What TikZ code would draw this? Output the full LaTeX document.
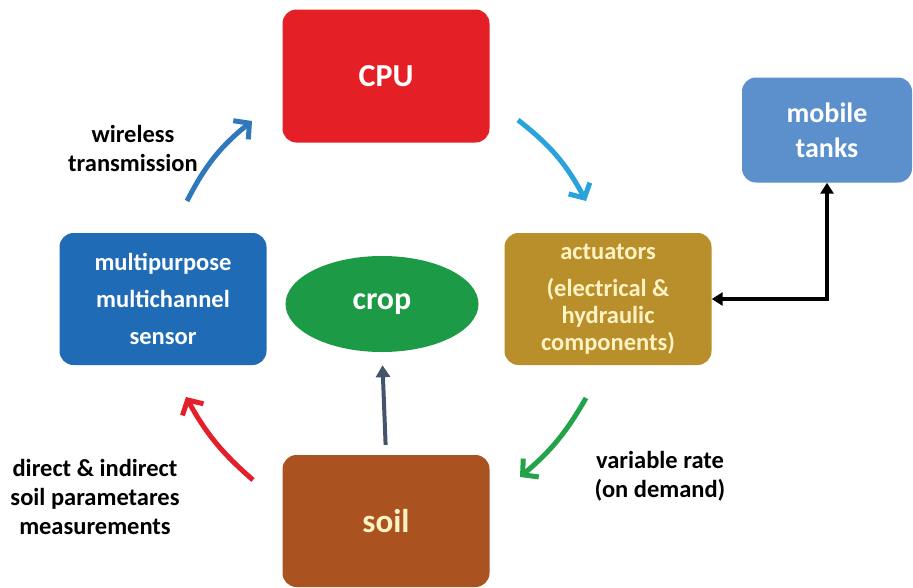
\documentclass[tikz,border=0pt]{standalone}
\usepackage{fontspec}
\setmainfont{Carlito}
\usetikzlibrary{positioning,arrows.meta,shapes.geometric}
\definecolor{cpured}{HTML}{E41F26}
\definecolor{tankblue}{HTML}{5B90CC}
\definecolor{actgold}{HTML}{B98F2B}
\definecolor{sensorblue}{HTML}{1F6BB6}
\definecolor{cropgreen}{HTML}{1C9A45}
\definecolor{soilbrown}{HTML}{AA5321}
\definecolor{wireblue}{HTML}{2F78BC}
\definecolor{skyblue}{HTML}{2AA3DC}
\definecolor{rategreen}{HTML}{22A34A}
\definecolor{measred}{HTML}{E3202A}
\definecolor{slate}{HTML}{44546A}
\definecolor{paleyellow}{HTML}{FFF3C4}

\begin{document}
\begin{tikzpicture}
		[x=1pt,y=-1pt,
		box/.style={rectangle,rounded corners=14pt,minimum width=207pt,minimum height=132pt,text=white,align=center,font=\bfseries},
		flow/.style={line width=5pt,-{Straight Barb[length=11pt,width=24pt]}},
		lbl/.style={align=center,font=\fontsize{24.5}{29}\selectfont\bfseries}]
		\useasboundingbox (0,0) rectangle (913,587);

		% draw the boxes
		\node [box,fill=cpured,minimum height=133pt,font=\fontsize{32}{36}\selectfont\bfseries] (cpu) at (386,76) {CPU};
		\node [box,fill=tankblue,minimum width=170pt,minimum height=105pt,font=\fontsize{28}{35}\selectfont\bfseries] (tanks) at (827,130) {mobile\\tanks};
		\node [box,fill=actgold,text=paleyellow,font=\fontsize{24.5}{27}\selectfont\bfseries] (act) at (608,299) {actuators\\[10pt](electrical \&\\hydraulic\\components)};
		\node [box,fill=sensorblue,font=\fontsize{24.5}{37}\selectfont\bfseries] (sensor) at (163,299) {multipurpose\\multichannel\\sensor};
		\node [ellipse,fill=cropgreen,text=white,minimum width=193pt,minimum height=96pt,font=\fontsize{32}{36}\selectfont\bfseries] (crop) at (382,304) {crop};
		\node [box,fill=soilbrown,text=paleyellow,font=\fontsize{33}{36}\selectfont\bfseries] (soil) at (386,521) {soil};

		% draw the labels
		\node [lbl] (wire) at (133,148) {wireless\\transmission};
		\node [lbl] (meas) at (95,497) {direct \& indirect\\soil parametares\\measurements};
		\node [lbl] (rate) at (660,476) {variable rate\\(on demand)};

		% ends of the curved arrows
		\coordinate (w1) at (187,201);
		\coordinate (w2) at (252,121);
		\coordinate (c1) at (518,120);
		\coordinate (c2) at (586,201);
		\coordinate (g1) at (586,398);
		\coordinate (g2) at (520,477);
		\coordinate (r1) at (253,480);
		\coordinate (r2) at (186,397);

		% draw the flow
		\draw [flow,wireblue] (w1) to[bend left=12] (w2);
		\draw [flow,skyblue] (c1) to[bend left=12] (c2);
		\draw [flow,rategreen] (g1) to[bend left=10] (g2);
		\draw [flow,measred] (r1) to[bend left=10] (r2);
		\draw [slate,line width=4pt,-{Triangle[length=12pt,width=14pt]},shorten <=10pt,shorten >=13pt] (soil.north) -- (crop.south);
		\draw [line width=3.5pt,{Triangle[length=11pt,width=13pt]}-{Triangle[length=11pt,width=13pt]}] (act.east) -| (tanks.south);
	\end{tikzpicture}
\end{document}
